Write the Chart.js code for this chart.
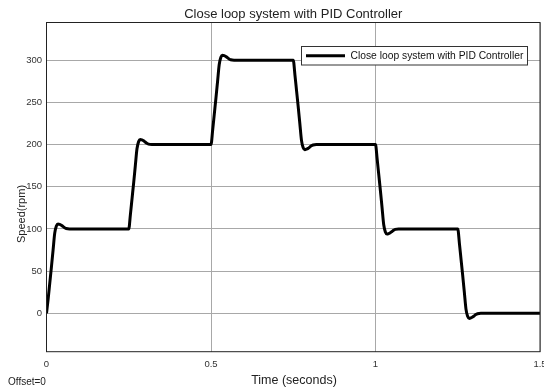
<!DOCTYPE html>
<html>
<head>
<meta charset="utf-8">
<script src="https://cdn.jsdelivr.net/npm/chart.js@4.4.0/dist/chart.umd.min.js"></script>
<style>
  html, body { margin: 0; padding: 0; background: #fff; }
  #wrap { width: 544px; height: 389px; }
</style>
</head>
<body>
<div id="wrap"><canvas id="speedChart" width="544" height="389"></canvas></div>
<script>
// speed response of the PID loop, time in seconds, speed in rpm
const time = [
  0, 0.005, 0.01, 0.015, 0.02, 0.025, 0.03, 0.035, 0.04, 0.045, 0.05, 0.055, 0.06, 0.07,
  0.25, 0.255, 0.26, 0.265, 0.27, 0.275, 0.28, 0.285, 0.29, 0.295, 0.30, 0.305, 0.31, 0.32,
  0.5, 0.505, 0.51, 0.515, 0.52, 0.525, 0.53, 0.535, 0.54, 0.545, 0.55, 0.555, 0.56, 0.57,
  0.75, 0.755, 0.76, 0.765, 0.77, 0.775, 0.78, 0.785, 0.79, 0.795, 0.80, 0.805, 0.81, 0.82,
  1.0, 1.005, 1.01, 1.015, 1.02, 1.025, 1.03, 1.035, 1.04, 1.045, 1.05, 1.055, 1.06, 1.07,
  1.25, 1.255, 1.26, 1.265, 1.27, 1.275, 1.28, 1.285, 1.29, 1.295, 1.30, 1.305, 1.31, 1.32,
  1.5
];
const speed = [
  0, 17, 36, 55, 75, 95, 103.5, 106, 105.5, 104.5, 103, 101.5, 100.5, 100,
  100, 117, 136, 155, 175, 195, 203.5, 206, 205.5, 204.5, 203, 201.5, 200.5, 200,
  200, 217, 236, 255, 275, 295, 303.5, 306, 305.5, 304.5, 303, 301.5, 300.5, 300,
  300, 283, 264, 245, 225, 205, 196.5, 194, 194.5, 195.5, 197, 198.5, 199.5, 200,
  200, 183, 164, 145, 125, 105, 96.5, 94, 94.5, 95.5, 97, 98.5, 99.5, 100,
  100, 83, 64, 45, 25, 5, -3.5, -6, -5.5, -4.5, -3, -1.5, -0.5, 0,
  0
];
const xTicks = [0, 0.5, 1, 1.5];
const yTicks = [0, 50, 100, 150, 200, 250, 300];
const seriesName = 'Close loop system with PID Controller';

const font = '"Liberation Sans", Arial, sans-serif';

// title, axis names, frame and legend drawn on top of the plot
const decorations = {
  id: 'decorations',
  afterDraw(chart) {
    const ctx = chart.ctx;
    const a = chart.chartArea;
    ctx.save();
    // frame around the plot
    ctx.strokeStyle = '#222';
    ctx.lineWidth = 1;
    ctx.strokeRect(a.left, a.top, a.right - a.left, a.bottom - a.top);

    ctx.fillStyle = '#222';
    ctx.textAlign = 'center';
    ctx.textBaseline = 'middle';
    ctx.font = '13px ' + font;
    ctx.fillText(seriesName, (a.left + a.right) / 2, 14);

    ctx.font = '12.5px ' + font;
    ctx.fillText('Time (seconds)', 294, 381);

    ctx.font = '10px ' + font;
    ctx.textAlign = 'left';
    ctx.fillText('Offset=0', 8, 382);

    ctx.save();
    ctx.translate(21.5, 214);
    ctx.rotate(-Math.PI / 2);
    ctx.textAlign = 'center';
    ctx.font = '11px ' + font;
    ctx.fillText('Speed(rpm)', 0, 0);
    ctx.restore();

    // legend box
    const lx = 301.5, ly = 46.5, lw = 226, lh = 18.5;
    ctx.fillStyle = '#fff';
    ctx.fillRect(lx, ly, lw, lh);
    ctx.strokeStyle = '#333';
    ctx.strokeRect(lx, ly, lw, lh);
    ctx.strokeStyle = '#000';
    ctx.lineWidth = 3;
    ctx.beginPath();
    ctx.moveTo(306, ly + lh / 2);
    ctx.lineTo(345, ly + lh / 2);
    ctx.stroke();
    ctx.fillStyle = '#111';
    ctx.font = '10.3px ' + font;
    ctx.textAlign = 'left';
    ctx.fillText(seriesName, 350.5, ly + lh / 2 + 0.5);
    ctx.restore();
  }
};

new Chart(document.getElementById('speedChart'), {
  type: 'line',
  data: {
    datasets: [{
      label: seriesName,
      data: time.map((t, i) => ({ x: t, y: speed[i] })),
      borderColor: '#000',
      borderWidth: 3,
      pointRadius: 0,
      cubicInterpolationMode: 'monotone',
      fill: false
    }]
  },
  options: {
    responsive: false,
    devicePixelRatio: 1,
    animation: false,
    layout: { padding: { left: 0, top: 22.5, right: 4, bottom: 0 } },
    plugins: {
      legend: { display: false },
      title: { display: false },
      tooltip: { enabled: false }
    },
    scales: {
      x: {
        type: 'linear',
        min: 0,
        max: 1.5,
        afterBuildTicks: axis => { axis.ticks = xTicks.map(v => ({ value: v })); },
        afterFit: axis => {
          axis.height = 37.3;
          // let "1.5" run off the right edge instead of shrinking the plot
          axis.paddingLeft = 0;
          axis.paddingRight = 0;
        },
        grid: { color: '#a8a8a8', drawTicks: false },
        border: { display: false },
        ticks: {
          padding: 7,
          maxRotation: 0,
          color: '#333',
          font: { family: font, size: 9.5 },
          callback: v => String(v)
        }
      },
      y: {
        min: -45.5,
        max: 344.7,
        afterBuildTicks: axis => { axis.ticks = yTicks.map(v => ({ value: v })); },
        afterFit: axis => {
          axis.width = 46.5;
          axis.paddingTop = 0;
          axis.paddingBottom = 0;
        },
        grid: { color: '#a8a8a8', drawTicks: false },
        border: { display: false },
        ticks: {
          padding: 4.5,
          color: '#333',
          font: { family: font, size: 9.5 },
          callback: v => String(v)
        }
      }
    }
  },
  plugins: [decorations]
});
</script>
</body>
</html>
